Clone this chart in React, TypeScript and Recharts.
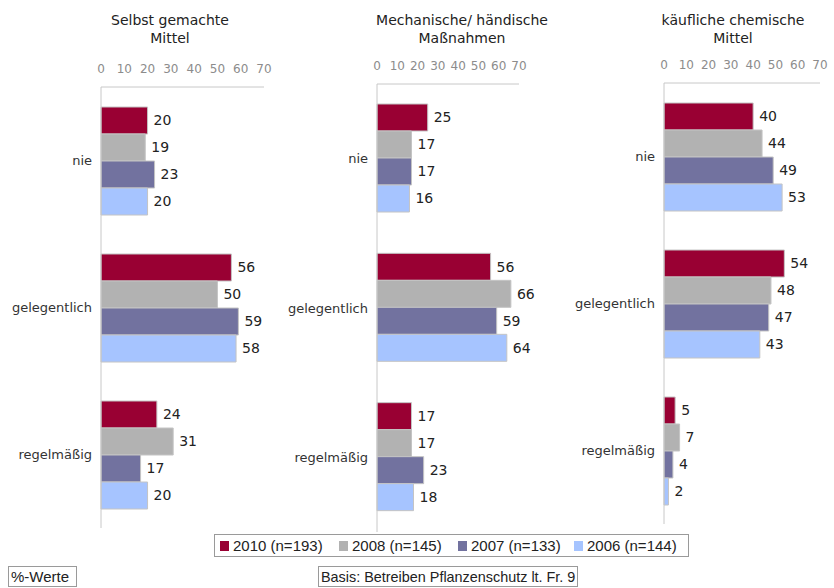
import React from "react";
import { BarChart, Bar, XAxis, YAxis, LabelList } from "recharts";

const CATEGORIES = ["nie", "gelegentlich", "regelmäßig"];
const TICKS = [0, 10, 20, 30, 40, 50, 60, 70];

// values per panel: [nie, gelegentlich, regelmäßig]
const Y2010 = [[20, 56, 24], [25, 56, 17], [40, 54, 5]];
const Y2008 = [[19, 50, 31], [17, 66, 17], [44, 48, 7]];
const Y2007 = [[23, 59, 17], [17, 59, 23], [49, 47, 4]];
const Y2006 = [[20, 58, 20], [16, 64, 18], [53, 43, 2]];

const SERIES = [
  { key: "y2010", label: "2010 (n=193)", color: "#990033", values: Y2010 },
  { key: "y2008", label: "2008 (n=145)", color: "#b2b2b2", values: Y2008 },
  { key: "y2007", label: "2007 (n=133)", color: "#72729f", values: Y2007 },
  { key: "y2006", label: "2006 (n=144)", color: "#a6c4ff", values: Y2006 },
];

const PANELS = [
  { title: ["Selbst gemachte", "Mittel"], left: 0, yw: 101, pw: 163, top: 87, bottom: 528, cx: 170 },
  { title: ["Mechanische/ händische", "Maßnahmen"], left: 270, yw: 107, pw: 142, top: 84, bottom: 532, cx: 462 },
  { title: ["käufliche chemische", "Mittel"], left: 556, yw: 108, pw: 156, top: 83, bottom: 524, cx: 733 },
];

const LEGEND_X = [220, 339, 458, 574];

const FONT = "'DejaVu Sans', sans-serif";
const NARROW = "'Liberation Sans', sans-serif";

const Panel: React.FC<{ idx: number }> = ({ idx }) => {
  const p = PANELS[idx];
  const data = CATEGORIES.map((c, i) => {
    const row: Record<string, string | number> = { cat: c };
    SERIES.forEach((s) => (row[s.key] = s.values[idx][i]));
    return row;
  });
  const axisH = 30;
  return (
    <div style={{ position: "absolute", left: p.left, top: 0 }}>
      <BarChart
        width={p.yw + p.pw + 30}
        height={p.bottom}
        layout="vertical"
        data={data}
        barCategoryGap={20}
        barGap={0}
        margin={{ top: p.top - axisH, right: 30, left: 0, bottom: 0 }}
      >
        <XAxis
          type="number"
          orientation="top"
          domain={[0, 70]}
          ticks={TICKS}
          height={axisH}
          interval={0}
          stroke="#c8c8c8"
          tickLine={false}
          tickMargin={8}
          tick={{ fontSize: 12, fill: "#8c8c8c", fontFamily: FONT }}
        />
        <YAxis
          type="category"
          dataKey="cat"
          width={p.yw}
          stroke="#c8c8c8"
          tickLine={false}
          tickMargin={3}
          tick={{ fontSize: 13, fill: "#333", fontFamily: FONT }}
        />
        {SERIES.map((s) => (
          <Bar key={s.key} dataKey={s.key} fill={s.color} stroke="#c4c4c4" isAnimationActive={false}>
            <LabelList
              dataKey={s.key}
              position="right"
              offset={6}
              style={{ fontSize: 14, fill: "#222", fontFamily: FONT }}
            />
          </Bar>
        ))}
      </BarChart>
      <div
        style={{
          position: "absolute",
          left: p.cx - p.left - 120,
          top: 11,
          width: 240,
          textAlign: "center",
          fontFamily: FONT,
          fontSize: 14,
          lineHeight: "18px",
          color: "#222",
        }}
      >
        {p.title[0]}
        <br />
        {p.title[1]}
      </div>
    </div>
  );
};

const boxStyle: React.CSSProperties = {
  position: "absolute",
  border: "1px solid #9a9a9a",
  fontFamily: NARROW,
  fontSize: 15,
  color: "#222",
  background: "#fff",
  boxSizing: "border-box",
  whiteSpace: "nowrap",
  display: "flex",
  alignItems: "center",
};

export default function App() {
  return (
    <div
      style={{
        position: "absolute",
        left: 0,
        top: 0,
        width: 834,
        height: 588,
        background: "#fff",
        overflow: "hidden",
      }}
    >
      {PANELS.map((_, i) => (
        <Panel key={i} idx={i} />
      ))}
      <div style={{ ...boxStyle, left: 214, top: 534, width: 475, height: 23 }} />
      {SERIES.map((s, i) => (
        <div
          key={s.key}
          style={{
            position: "absolute",
            left: LEGEND_X[i],
            top: 535,
            height: 21,
            display: "flex",
            alignItems: "center",
            fontFamily: NARROW,
            fontSize: 15,
            color: "#222",
            whiteSpace: "nowrap",
          }}
        >
          <span style={{ display: "inline-block", width: 9, height: 10, background: s.color, marginRight: 4 }} />
          {s.label}
        </div>
      ))}
      <div style={{ ...boxStyle, left: 8, top: 566, width: 69, height: 21, paddingLeft: 2 }}>%-Werte</div>
      <div style={{ ...boxStyle, left: 318, top: 566, width: 260, height: 21, paddingLeft: 2, fontSize: 14.4 }}>
        Basis: Betreiben Pflanzenschutz lt. Fr. 9
      </div>
    </div>
  );
}
